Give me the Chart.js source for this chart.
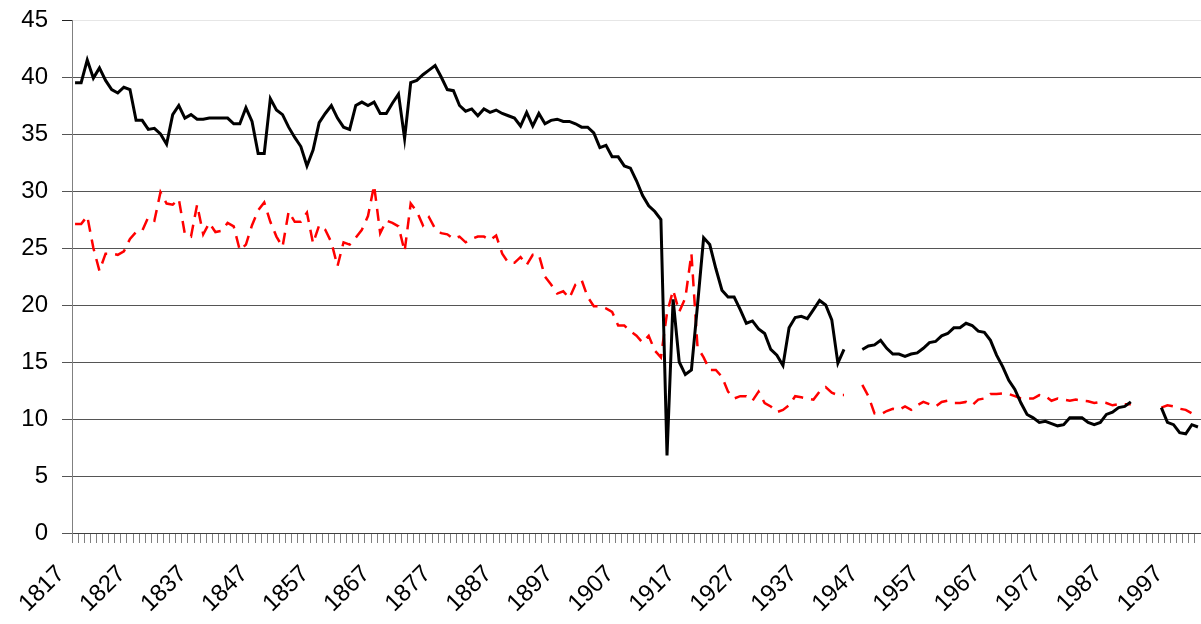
<!DOCTYPE html>
<html><head><meta charset="utf-8">
<script src="https://cdn.jsdelivr.net/npm/chart.js@4"></script>
<style>html,body{margin:0;padding:0;background:#fff;overflow:hidden}#wrap{width:1201px;height:624px;position:relative}</style>
</head><body><div id="wrap"><canvas id="c" width="1201" height="624"></canvas></div>
<script>
const years = [
1817,1818,1819,1820,1821,1822,1823,1824,1825,1826,
1827,1828,1829,1830,1831,1832,1833,1834,1835,1836,
1837,1838,1839,1840,1841,1842,1843,1844,1845,1846,
1847,1848,1849,1850,1851,1852,1853,1854,1855,1856,
1857,1858,1859,1860,1861,1862,1863,1864,1865,1866,
1867,1868,1869,1870,1871,1872,1873,1874,1875,1876,
1877,1878,1879,1880,1881,1882,1883,1884,1885,1886,
1887,1888,1889,1890,1891,1892,1893,1894,1895,1896,
1897,1898,1899,1900,1901,1902,1903,1904,1905,1906,
1907,1908,1909,1910,1911,1912,1913,1914,1915,1916,
1917,1918,1919,1920,1921,1922,1923,1924,1925,1926,
1927,1928,1929,1930,1931,1932,1933,1934,1935,1936,
1937,1938,1939,1940,1941,1942,1943,1944,1945,1946,
1947,1948,1949,1950,1951,1952,1953,1954,1955,1956,
1957,1958,1959,1960,1961,1962,1963,1964,1965,1966,
1967,1968,1969,1970,1971,1972,1973,1974,1975,1976,
1977,1978,1979,1980,1981,1982,1983,1984,1985,1986,
1987,1988,1989,1990,1991,1992,1993,1994,1995,1996,
1997,1998,1999,2000,2001];

const seriesBlack = [
39.5,39.5,41.5,39.9,40.8,39.7,38.9,38.6,39.1,38.9,
36.2,36.2,35.4,35.5,35.0,34.1,36.7,37.5,36.4,36.7,
36.3,36.3,36.4,36.4,36.4,36.4,35.9,35.9,37.3,36.1,
33.3,33.3,38.1,37.1,36.7,35.6,34.7,33.9,32.2,33.6,
36.0,36.8,37.5,36.4,35.6,35.4,37.5,37.8,37.5,37.8,
36.8,36.8,37.7,38.5,34.6,39.5,39.7,40.2,40.6,41.0,
40.0,38.9,38.8,37.5,37.0,37.2,36.6,37.2,36.9,37.1,
36.8,36.6,36.4,35.7,36.9,35.7,36.8,35.9,36.2,36.3,
36.1,36.1,35.9,35.6,35.6,35.1,33.8,34.0,33.0,33.0,
32.2,32.0,30.9,29.6,28.7,28.2,27.5,6.8,20.5,15.0,
13.9,14.3,20.0,25.9,25.3,23.2,21.3,20.7,20.7,19.6,
18.4,18.6,17.9,17.5,16.1,15.6,14.7,18.0,18.9,19.0,
18.8,19.6,20.4,20.0,18.7,14.9,16.1,null,null,16.1,
16.4,16.5,16.9,16.2,15.7,15.7,15.5,15.7,15.8,16.2,
16.7,16.8,17.3,17.5,18.0,18.0,18.4,18.2,17.7,17.6,
16.9,15.6,14.6,13.4,12.6,11.4,10.4,10.1,9.7,9.8,
9.6,9.4,9.5,10.1,10.1,10.1,9.7,9.5,9.7,10.4,
10.6,11.0,11.1,11.5,null,null,null,null,11.0,9.7,
9.5,8.8,8.7,9.5,9.3];

const seriesRed = [
27.1,27.1,27.8,25.0,23.0,24.5,24.5,24.4,24.7,25.8,
26.4,26.5,27.7,27.4,29.9,28.9,28.8,29.3,26.2,26.0,
28.8,26.2,27.2,26.4,26.5,27.2,26.9,24.8,25.3,27.0,
28.3,29.0,27.3,26.0,25.1,28.2,27.3,27.3,28.1,25.4,
27.0,26.6,25.5,23.4,25.5,25.3,25.9,26.6,27.8,30.5,
26.3,27.4,27.2,26.9,24.7,28.9,28.2,27.0,27.7,26.7,
26.3,26.2,25.8,26.0,25.5,25.8,26.0,26.0,25.7,26.1,
24.5,23.7,23.7,24.2,23.5,24.4,24.4,22.5,21.8,21.0,
21.2,20.6,21.8,22.2,20.7,19.9,19.9,19.7,19.4,18.2,
18.2,17.7,17.3,16.7,17.3,16.0,15.4,19.3,21.3,19.4,
20.6,24.5,16.3,15.4,14.3,14.3,13.7,12.4,11.8,12.0,
12.0,11.6,12.4,11.4,11.1,10.6,10.8,11.2,12.0,11.9,
11.8,11.7,12.4,12.8,12.3,12.1,12.1,null,null,13.0,
12.0,10.5,10.4,10.7,10.9,10.8,11.1,10.8,11.2,11.5,
11.3,11.1,11.5,11.6,11.4,11.4,11.5,11.2,11.7,11.8,
12.2,12.2,12.25,12.2,12.0,11.8,11.8,11.8,12.1,12.0,
11.6,11.8,11.7,11.6,11.7,11.6,11.55,11.4,11.5,11.4,
11.2,11.3,11.3,11.3,null,null,null,null,11.0,11.2,
11.1,10.9,10.8,10.5,10.3];

const xTickLabels = [1817,1827,1837,1847,1857,1867,1877,1887,1897,1907,1917,1927,1937,1947,1957,1967,1977,1987,1997];
const yMin = 0, yMax = 45, yStep = 5;

const FONT = "'Liberation Sans', Arial, sans-serif";

new Chart(document.getElementById('c'), {
  type: 'line',
  data: {
    labels: years,
    datasets: [
      {data: seriesBlack, borderColor: '#000000', borderWidth: 3, pointRadius: 0, spanGaps: false, tension: 0, fill: false},
      {data: seriesRed, borderColor: '#ff0000', borderWidth: 2.5, borderDash: [12, 8], pointRadius: 0, spanGaps: false, tension: 0, fill: false}
    ]
  },
  options: {
    responsive: false,
    animation: false,
    devicePixelRatio: 1,
    plugins: {legend: {display: false}, tooltip: {enabled: false}},
    layout: {padding: {top: 20, right: 0, left: 0, bottom: 0}},
    scales: {
      x: {
        type: 'category',
        offset: true,
        grid: {drawOnChartArea: false, drawTicks: true, tickLength: 10, offset: true, color: '#808080'},
        border: {color: '#404040', width: 1},
        ticks: {
          autoSkip: false, maxRotation: 45, minRotation: 45,
          font: {family: FONT, size: 24}, color: '#000', padding: 17, labelOffset: -14,
          callback: function (v, i) { const y = years[i]; return xTickLabels.includes(y) ? String(y) : ''; }
        },
        afterFit: function (s) { s.height = 91; s.paddingLeft = 0; s.paddingRight = 0; }
      },
      y: {
        min: yMin, max: yMax,
        ticks: {stepSize: yStep, font: {family: FONT, size: 24}, color: '#000', padding: 14},
        grid: {
          color: ctx => (ctx.tick && ctx.tick.value === 45) ? '#e6e6e6' : '#555555',
          tickColor: ctx => (ctx.tick && ctx.tick.value === 45) ? '#222222' : '#555555',
          tickLength: 10, lineWidth: 1
        },
        border: {color: '#808080', width: 1},
        afterFit: function (s) { s.width = 72; s.paddingTop = 0; s.paddingBottom = 0; }
      }
    }
  }
});
</script>
</body></html>
